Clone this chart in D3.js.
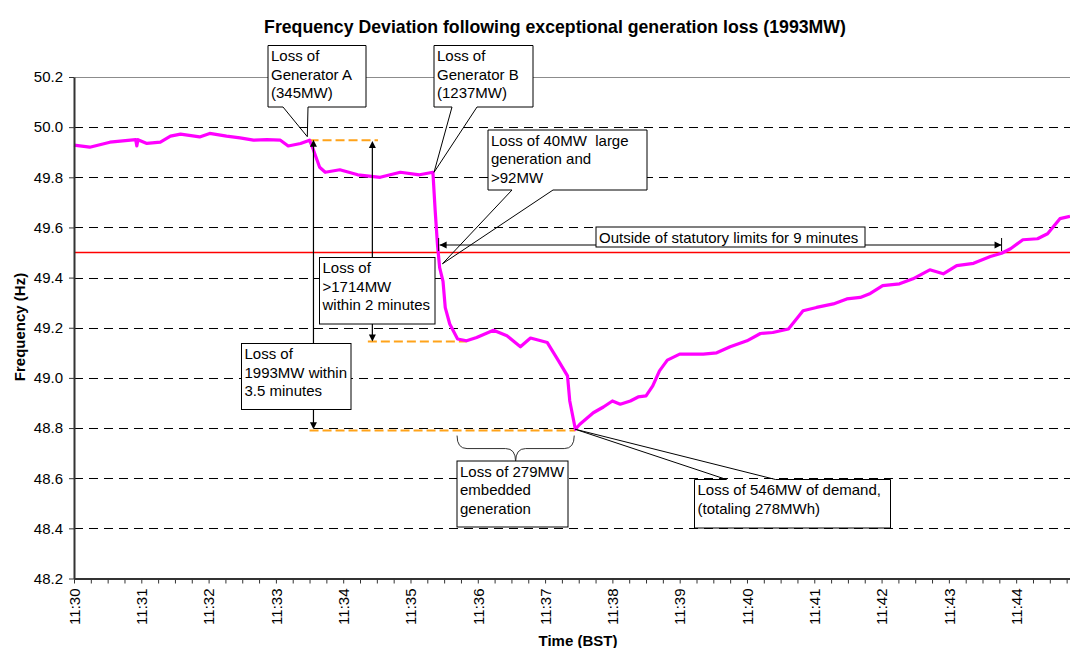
<!DOCTYPE html>
<html>
<head>
<meta charset="utf-8">
<script src="https://cdn.jsdelivr.net/npm/d3@7"></script>
<style>
  body { margin: 0; background: #fff; }
  svg { font-family: "Liberation Sans", Arial, sans-serif; }
</style>
</head>
<body>
<div id="chart"></div>
<script>

// seconds after 11:30:00 and frequency (Hz)
var secs = [0, 14, 32, 55, 56, 57, 65, 77, 86, 95, 112, 121, 136, 148, 160, 172, 184, 191, 202, 210,
  213, 219, 224, 237, 253, 273, 291, 308, 320, 322, 324, 326, 329, 331, 335, 342, 350, 359, 374, 386,
  398, 407, 422, 432, 440, 442, 447, 451, 463, 472, 480, 487, 496, 503, 510, 516, 522, 529, 540, 561,
  573, 585, 600, 612, 623, 637, 650, 662, 677, 689, 701, 710, 721, 736, 748, 763, 775, 787, 802, 817,
  827, 835, 846, 859, 868, 879, 888];
var freq = [49.928, 49.92, 49.94, 49.95, 49.925, 49.95, 49.935, 49.94, 49.964, 49.972, 49.961, 49.975, 49.964, 49.957, 49.948, 49.95, 49.948, 49.925, 49.935, 49.948,
  49.915, 49.84, 49.82, 49.83, 49.81, 49.80, 49.82, 49.81, 49.82, 49.668, 49.535, 49.44, 49.385, 49.28, 49.215, 49.155, 49.148, 49.161, 49.19, 49.168,
  49.124, 49.159, 49.141, 49.068, 49.008, 48.908, 48.795, 48.815, 48.861, 48.884, 48.908, 48.895, 48.908, 48.924, 48.928, 48.968, 49.028, 49.071, 49.095, 49.095,
  49.1, 49.124, 49.148, 49.177, 49.181, 49.195, 49.268, 49.281, 49.295, 49.315, 49.321, 49.337, 49.368, 49.375, 49.395, 49.431, 49.415, 49.448, 49.457, 49.484,
  49.497, 49.515, 49.551, 49.555, 49.575, 49.635, 49.644];

var xLabels = ["11:30", "11:31", "11:32", "11:33", "11:34", "11:35", "11:36", "11:37",
  "11:38", "11:39", "11:40", "11:41", "11:42", "11:43", "11:44"];
var yTicks = [48.2, 48.4, 48.6, 48.8, 49.0, 49.2, 49.4, 49.6, 49.8, 50.0, 50.2];
var statLimit = 49.5;

// orange reference levels: [from s, to s, Hz]
var levels = [[210, 271, 49.948], [262, 350, 49.145], [210, 447, 48.79]];

// callout texts and the point (s, Hz) each one points at
var calloutText = [
  ["Loss of", "Generator A", "(345MW)"],
  ["Loss of", "Generator B", "(1237MW)"],
  ["Loss of 40MW  large", "generation and", ">92MW"],
  ["Loss of 546MW of demand,", "(totaling 278MWh)"]
];
var calloutTip = [[208, 49.962], [321, 49.82], [328.5, 49.455], [447, 48.795]];

var boxText = [
  ["Outside of statutory limits for 9 minutes"],
  ["Loss of", ">1714MW", "within 2 minutes"],
  ["Loss of", "1993MW within", "3.5 minutes"],
  ["Loss of 279MW", "embedded", "generation"]
];

// span of the out-of-limits period (s) and the frequency level of its arrow
var outsideSpan = [326, 827], outsideLevel = 49.53;
// vertical loss arrows: time (s), upper level, lower level
var lossArrows = [[266, 49.945, 49.145], [213.5, 49.95, 48.795]];
// brace under the embedded generation loss (s) and its level
var braceSpan = [341.5, 446], braceLevel = 48.77;

// layout of the text boxes (pixels)
var calloutBox = [
  {x: 268, y: 45.5, w: 98, h: 61.5, side: "bottom", b: [15, 40]},
  {x: 434, y: 45.5, w: 99, h: 61.5, side: "bottom", b: [18, 43]},
  {x: 488, y: 130, w: 159, h: 60, side: "bottom", b: [24, 65]},
  {x: 694.5, y: 479.5, w: 196, h: 48.5, side: "top", b: [32, 81]}
];
var plainBox = [
  {x: 596, y: 227, w: 269, h: 20},
  {x: 319.5, y: 257.5, w: 115.5, h: 66.5},
  {x: 241.5, y: 343.5, w: 109.5, h: 66},
  {x: 457, y: 461, w: 111, h: 66}
];

var W = 1070, H = 648;
var margin = {top: 77, right: 0, bottom: 70, left: 74};

var svg = d3.select("#chart")
  .append("svg")
    .attr("width", W)
    .attr("height", H);

var x = d3.scaleLinear()
  .domain([0, 888])
  .range([margin.left, W - margin.right]);
var y = d3.scaleLinear()
  .domain([48.2, 50.2])
  .range([H - margin.bottom - 0.5 + 1, margin.top]);

// gridlines
svg.append("g")
  .selectAll("line")
  .data(yTicks.slice(1))
  .enter().append("line")
    .attr("x1", x(0)).attr("x2", x(888))
    .attr("y1", function(d) { return Math.round(y(d)) + 0.5; })
    .attr("y2", function(d) { return Math.round(y(d)) + 0.5; })
    .attr("stroke", function(d) { return d === 50.2 ? "#8c8c8c" : "#000"; })
    .attr("stroke-width", 1)
    .attr("stroke-dasharray", function(d) { return d === 50.2 ? null : "9,6"; });

// statutory limit
svg.append("line")
  .attr("x1", x(0)).attr("x2", x(888))
  .attr("y1", y(statLimit)).attr("y2", y(statLimit))
  .attr("stroke", "#ff0000")
  .attr("stroke-width", 1.5);

// orange levels
svg.append("g")
  .selectAll("line")
  .data(levels)
  .enter().append("line")
    .attr("x1", function(d) { return x(d[0]); })
    .attr("x2", function(d) { return x(d[1]); })
    .attr("y1", function(d) { return y(d[2]); })
    .attr("y2", function(d) { return y(d[2]); })
    .attr("stroke", "#ffa31a")
    .attr("stroke-width", 2)
    .attr("stroke-dasharray", "9,4");

// frequency trace
var pts = secs.map(function(s, i) { return [s, freq[i]]; });
svg.append("path")
  .datum(pts)
  .attr("fill", "none")
  .attr("stroke", "#ff00ff")
  .attr("stroke-width", 3.2)
  .attr("stroke-linejoin", "round")
  .attr("d", d3.line()
    .x(function(d) { return x(d[0]); })
    .y(function(d) { return y(d[1]); }));

// axes
var yAxis = svg.append("g")
  .attr("transform", "translate(" + x(0) + ",0)")
  .call(d3.axisLeft(y).tickValues(yTicks).tickSize(5).tickSizeOuter(0).tickPadding(6)
    .tickFormat(d3.format(".1f")));

var xAxis = svg.append("g")
  .attr("transform", "translate(0," + y(48.2) + ")")
  .call(d3.axisBottom(x).tickValues(d3.range(0, 886, 15)).tickSize(5).tickSizeOuter(0)
    .tickFormat(function(d) { return d % 60 === 0 ? xLabels[d / 60] : ""; }));

[xAxis, yAxis].forEach(function(a) {
  a.attr("font-size", 15).attr("font-family", "Liberation Sans, Arial, sans-serif");
  a.select(".domain").attr("stroke", "#333").attr("stroke-width", 2);
  a.selectAll(".tick line").attr("stroke", "#333");
  a.selectAll(".tick text").attr("fill", "#000");
});
xAxis.selectAll(".tick text")
  .attr("transform", "rotate(-90)")
  .attr("x", -10).attr("y", 0).attr("dy", "0.35em")
  .style("text-anchor", "end");

// titles
svg.append("text")
  .attr("x", 555).attr("y", 33)
  .attr("text-anchor", "middle")
  .attr("font-size", 17.7).attr("font-weight", "bold")
  .text("Frequency Deviation following exceptional generation loss (1993MW)");
svg.append("text")
  .attr("x", 578).attr("y", 646)
  .attr("text-anchor", "middle")
  .attr("font-size", 15).attr("font-weight", "bold")
  .text("Time (BST)");
svg.append("text")
  .attr("transform", "translate(25,327) rotate(-90)")
  .attr("text-anchor", "middle")
  .attr("font-size", 15).attr("font-weight", "bold")
  .text("Frequency (Hz)");

// arrow helpers
function head(g, tx, ty, dir) {
  // dir: "up", "down", "left", "right"
  var L = 7, h = 3.5, p;
  if (dir === "up") p = [[tx, ty], [tx - h, ty + L], [tx + h, ty + L]];
  if (dir === "down") p = [[tx, ty], [tx - h, ty - L], [tx + h, ty - L]];
  if (dir === "left") p = [[tx, ty], [tx + L, ty - h], [tx + L, ty + h]];
  if (dir === "right") p = [[tx, ty], [tx - L, ty - h], [tx - L, ty + h]];
  g.append("path").attr("d", "M" + p.join("L") + "Z").attr("fill", "#000");
}

var ann = svg.append("g");

// out of limits double arrow
var ay = y(outsideLevel), ax0 = x(outsideSpan[0]), ax1 = x(outsideSpan[1]);
ann.append("line").attr("x1", ax0).attr("x2", ax1).attr("y1", ay).attr("y2", ay)
  .attr("stroke", "#000").attr("stroke-width", 1.2);
head(ann, ax0, ay, "left");
head(ann, ax1, ay, "right");
[ax0 - 1, ax1].forEach(function(v) {
  ann.append("line").attr("x1", v).attr("x2", v).attr("y1", ay - 7).attr("y2", ay + 6)
    .attr("stroke", "#000").attr("stroke-width", 1);
});

// vertical loss arrows, from the boxes out to the levels
lossArrows.forEach(function(a, i) {
  var b = plainBox[i + 1], vx = x(a[0]);
  ann.append("line").attr("x1", vx).attr("x2", vx).attr("y1", b.y).attr("y2", y(a[1]) + 6)
    .attr("stroke", "#000").attr("stroke-width", 1.2);
  head(ann, vx, y(a[1]), "up");
  ann.append("line").attr("x1", vx).attr("x2", vx).attr("y1", b.y + b.h).attr("y2", y(a[2]) - 6)
    .attr("stroke", "#000").attr("stroke-width", 1.2);
  head(ann, vx, y(a[2]), "down");
});

// brace
var bx0 = x(braceSpan[0]), bx1 = x(braceSpan[1]), bm = (bx0 + bx1) / 2;
var by = y(braceLevel), bmid = by + 13, btip = by + 26, r = 10;
ann.append("path")
  .attr("d", "M" + bx0 + "," + by + "Q" + bx0 + "," + bmid + " " + (bx0 + r) + "," + bmid +
    "H" + (bm - r) + "Q" + bm + "," + bmid + " " + bm + "," + btip +
    "Q" + bm + "," + bmid + " " + (bm + r) + "," + bmid +
    "H" + (bx1 - r) + "Q" + bx1 + "," + bmid + " " + bx1 + "," + by)
  .attr("fill", "none").attr("stroke", "#333").attr("stroke-width", 1);

function writeLines(g, b, lines) {
  var t = g.append("text").attr("font-size", 15).attr("fill", "#000")
    .style("white-space", "pre");
  lines.forEach(function(s, i) {
    t.append("tspan").attr("x", b.x + 3).attr("y", b.y + 15.5 + i * 18.6).text(s);
  });
}

// plain boxes
plainBox.forEach(function(b, i) {
  ann.append("rect").attr("x", b.x).attr("y", b.y).attr("width", b.w).attr("height", b.h)
    .attr("fill", "#fff").attr("stroke", "#000").attr("stroke-width", 1);
  writeLines(ann, b, boxText[i]);
});

// wedge callouts
calloutBox.forEach(function(b, i) {
  var tx = x(calloutTip[i][0]), ty = y(calloutTip[i][1]);
  var d;
  if (b.side === "bottom") {
    d = "M" + b.x + "," + b.y + "H" + (b.x + b.w) + "V" + (b.y + b.h) +
      "H" + (b.x + b.b[1]) + "L" + tx + "," + ty + "L" + (b.x + b.b[0]) + "," + (b.y + b.h) +
      "H" + b.x + "Z";
  } else {
    d = "M" + b.x + "," + b.y + "H" + (b.x + b.b[0]) + "L" + tx + "," + ty +
      "L" + (b.x + b.b[1]) + "," + b.y + "H" + (b.x + b.w) + "V" + (b.y + b.h) +
      "H" + b.x + "Z";
  }
  ann.append("rect").attr("x", b.x).attr("y", b.y).attr("width", b.w).attr("height", b.h)
    .attr("fill", "#fff");
  ann.append("path").attr("d", d).attr("fill", "none").attr("stroke", "#000").attr("stroke-width", 1);
  writeLines(ann, b, calloutText[i]);
});

</script>
</body>
</html>
